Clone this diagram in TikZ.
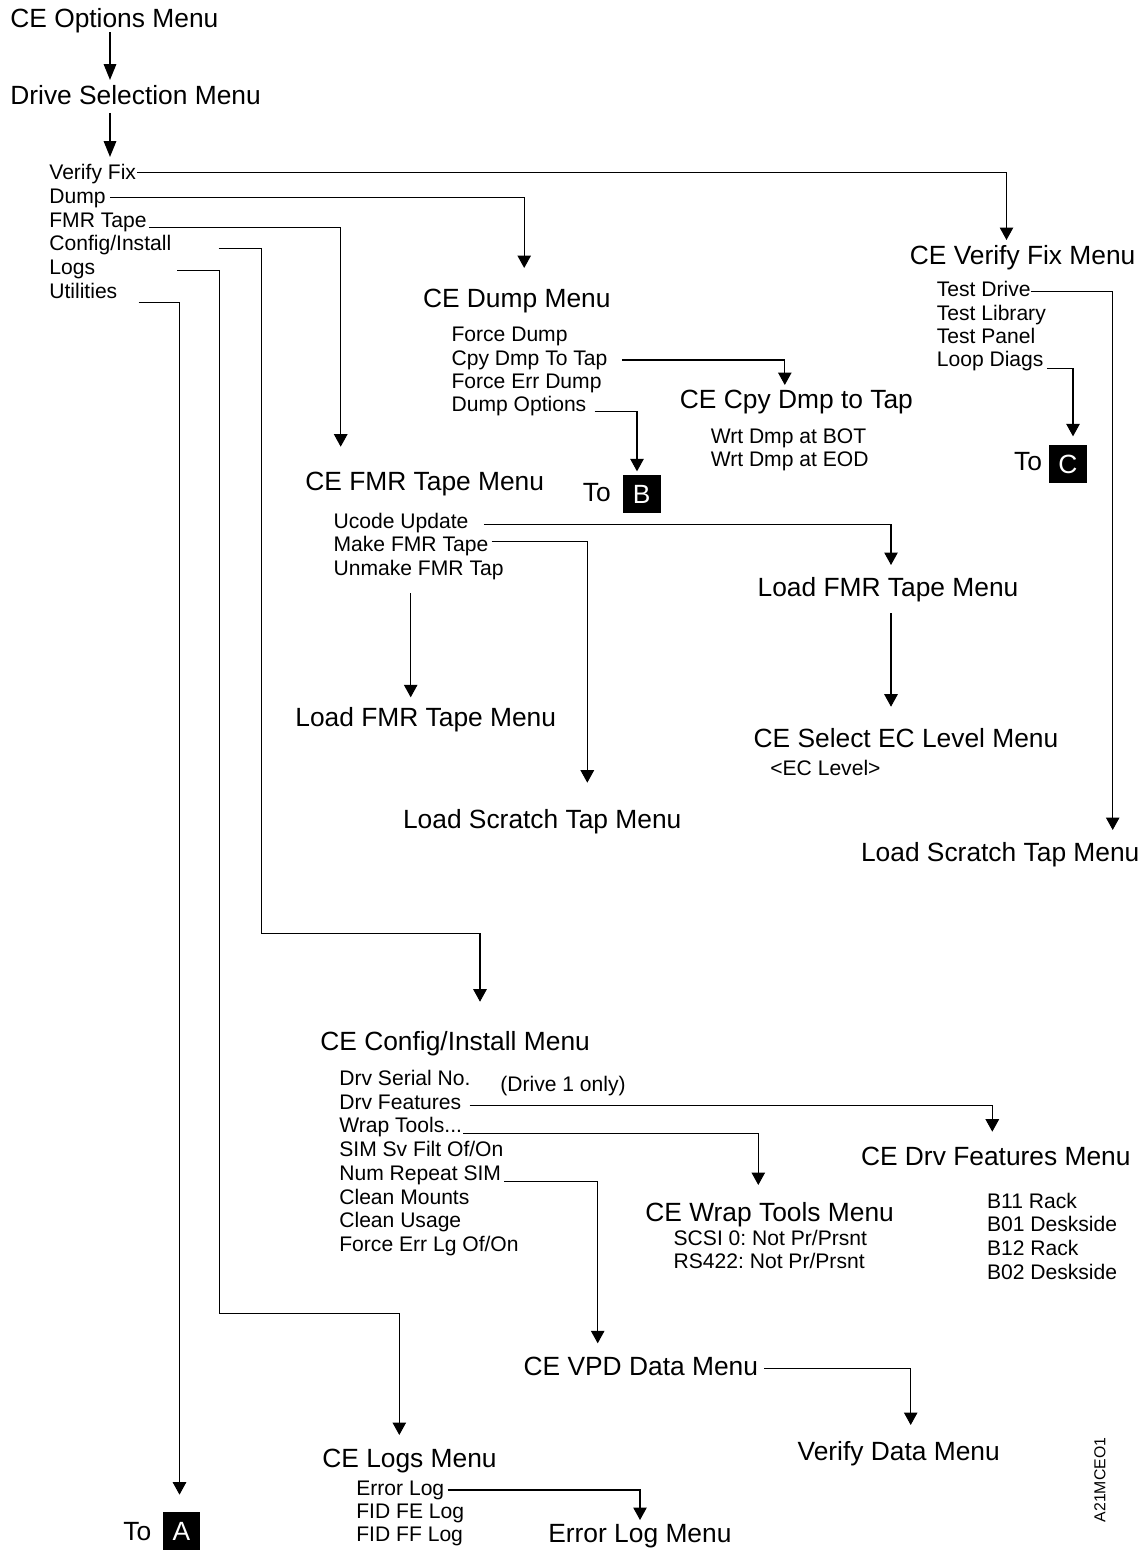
\documentclass[tikz,border=0pt]{standalone}
\usepackage{fontspec}
\setmainfont{Liberation Sans}
\usetikzlibrary{arrows.meta}
\frenchspacing

\begin{document}
\begin{tikzpicture}[x=0.02cm, y=-0.02cm,
      menu/.style={font=\fontsize{15}{17}\selectfont, inner sep=0pt, anchor=base west},
      opcion/.style={font=\fontsize{12}{14}\selectfont, inner sep=0pt, anchor=base west},
      destino/.style={fill=black, text=white, minimum size=0.76cm, inner sep=0pt,
                      font=\fontsize{15}{17}\selectfont},
      flecha/.style={-{Triangle[length=0.25cm, width=0.27cm]}, line width=0.6pt},
      flechagruesa/.style={-{Triangle[length=0.32cm, width=0.25cm]}, line width=1pt}]
    \useasboundingbox (0,0) rectangle (1143,1551);

    % menus
    \node[menu] (opciones) at (10,27.3) {CE Options Menu};
    \node[menu] (seleccion) at (10,104.5) {Drive Selection Menu};
    \node[menu] (mverif) at (909.5,264) {CE Verify Fix Menu};
    \node[menu] (mvolcado) at (422.7,307.3) {CE Dump Menu};
    \node[menu] (mcopia) at (679.6,408.3) {CE Cpy Dmp to Tap};
    \node[menu] (mfmr) at (305,490.7) {CE FMR Tape Menu};
    \node[menu] (mcarga1) at (295,726.7) {Load FMR Tape Menu};
    \node[menu] (mcarga2) at (757.3,596) {Load FMR Tape Menu};
    \node[menu] (mnivel) at (753.3,747.3) {CE Select EC Level Menu};
    \node[menu] (mscratch1) at (402.7,828.3) {Load Scratch Tap Menu};
    \node[menu] (mscratch2) at (860.7,861.7) {Load Scratch Tap Menu};
    \node[menu] (mconfig) at (320,1050) {CE Config/Install Menu};
    \node[menu] (mcaract) at (860.7,1165) {CE Drv Features Menu};
    \node[menu] (mwrap) at (645,1221) {CE Wrap Tools Menu};
    \node[menu] (mvpd) at (523.3,1375) {CE VPD Data Menu};
    \node[menu] (mverdatos) at (797.3,1460) {Verify Data Menu};
    \node[menu] (mlogs) at (322,1467) {CE Logs Menu};
    \node[menu] (merrlog) at (548,1542) {Error Log Menu};

    % salidas a otras hojas
    \node[menu] (aA) at (123,1540) {To};
    \node[destino] (letraA) at (181.5,1531) {A};
    \node[menu] (aB) at (582.5,501.7) {To};
    \node[destino] (letraB) at (641.7,494) {B};
    \node[menu] (aC) at (1013.7,470) {To};
    \node[destino] (letraC) at (1068,464) {C};

    % opciones
    \node[opcion] (vfix) at (49,179.5) {Verify Fix};
    \node[opcion] (dump) at (49,203.3) {Dump};
    \node[opcion] (fmr) at (49,227.1) {FMR Tape};
    \node[opcion] (config) at (49,250.9) {Config/Install};
    \node[opcion] (logs) at (49,274.7) {Logs};
    \node[opcion] (util) at (49,298.5) {Utilities};

    \node[opcion] (force) at (451.2,341.7) {Force Dump};
    \node[opcion] (cpy) at (451.2,365) {Cpy Dmp To Tap};
    \node[opcion] (ferr) at (451.2,388.3) {Force Err Dump};
    \node[opcion] (dopts) at (451.2,411.7) {Dump Options};

    \node[opcion] (bot) at (710.4,443.3) {Wrt Dmp at BOT};
    \node[opcion] (eod) at (710.4,466.7) {Wrt Dmp at EOD};

    \node[opcion] (tdrive) at (936.5,296.7) {Test Drive};
    \node[opcion] (tlib) at (936.5,320) {Test Library};
    \node[opcion] (tpanel) at (936.5,343.3) {Test Panel};
    \node[opcion] (ldiags) at (936.5,366.7) {Loop Diags};

    \node[opcion] (ucode) at (333.3,528.3) {Ucode Update};
    \node[opcion] (make) at (333.3,551.7) {Make FMR Tape};
    \node[opcion] (unmake) at (333.3,575) {Unmake FMR Tap};

    \node[opcion] (eclevel) at (770,775) {<EC Level>};

    \node[opcion] (serial) at (339,1085) {Drv Serial No.};
    \node[opcion] (dfeat) at (339,1109.3) {Drv Features};
    \node[opcion] (wrap) at (339,1132.7) {Wrap Tools...};
    \node[opcion] (simfilt) at (339,1156.7) {SIM Sv Filt Of/On};
    \node[opcion] (numrep) at (339,1180) {Num Repeat SIM};
    \node[opcion] (cmounts) at (339,1204) {Clean Mounts};
    \node[opcion] (cusage) at (339,1227.7) {Clean Usage};
    \node[opcion] (ferrlg) at (339,1251) {Force Err Lg Of/On};
    \node[opcion] (solo) at (500,1091.7) {(Drive 1 only)};

    \node[opcion] (scsi) at (673.3,1245) {SCSI 0: Not Pr/Prsnt};
    \node[opcion] (rs422) at (673.3,1268.3) {RS422: Not Pr/Prsnt};

    \node[opcion] (b11) at (986.7,1208.3) {B11 Rack};
    \node[opcion] (b01) at (986.7,1231.7) {B01 Deskside};
    \node[opcion] (b12) at (986.7,1255) {B12 Rack};
    \node[opcion] (b02) at (986.7,1279) {B02 Deskside};

    \node[opcion] (elog) at (356,1495) {Error Log};
    \node[opcion] (fidfe) at (356,1518.3) {FID FE Log};
    \node[opcion] (fidff) at (356,1541.7) {FID FF Log};

    \node[rotate=90, font=\fontsize{9}{10}\selectfont, inner sep=0pt] (codigo) at (1100,1480) {A21MCEO1};

    % conectores
    \draw[flechagruesa] ([shift={(100,5)}]opciones.base west) -- ([shift={(100,-24.5)}]seleccion.base west);
    \draw[flechagruesa] ([shift={(100,8.5)}]seleccion.base west) -- ([shift={(61,-22.5)}]vfix.base west);

    \draw[flecha] ([shift={(1,-7)}]vfix.base east) -| ([shift={(97,-24)}]mverif.base west);
    \draw[flecha] ([shift={(4,-6)}]dump.base east) -| ([shift={(101.5,-39.3)}]mvolcado.base west);
    \draw[flecha] ([shift={(2,0)}]fmr.base east) -| ([shift={(35.7,-44)}]mfmr.base west);
    \draw[flecha] ([shift={(47,-2.5)}]config.base east) -| ++(43,685) -| ([shift={(160,-48.3)}]mconfig.base west);
    \draw[flecha] ([shift={(82,-4)}]logs.base east) -| ++(42.5,1042.6) -| ([shift={(77.3,-32)}]mlogs.base west);
    \draw[flecha] ([shift={(21,4)}]util.base east) -| ([shift={(-2,-17)}]letraA.north);

    \draw[flecha] ([shift={(14,-5)}]cpy.base east) -| ([shift={(105.2,-23.3)}]mcopia.base west);
    \draw[flecha] ([shift={(8,0)}]dopts.base east) -| ([shift={(-4.7,-3.3)}]letraB.north);
    \draw[flecha] ([shift={(0,-5)}]tdrive.base east) -| ([shift={(252,-31.7)}]mscratch2.base west);
    \draw[flecha] ([shift={(3,1.5)}]ldiags.base east) -| ([shift={(5,-8.3)}]letraC.north);

    \draw[flecha] ([shift={(15,-4)}]ucode.base east) -| ([shift={(133.7,-31)}]mcarga2.base west);
    \draw[flecha] ([shift={(3,-10)}]make.base east) -| ([shift={(184.6,-45.6)}]mscratch1.base west);
    \draw[flecha] ([shift={(77.4,18.3)}]unmake.base west) -- ([shift={(115.7,-29.4)}]mcarga1.base west);
    \draw[flecha] ([shift={(133.7,17.3)}]mcarga2.base west) -- ([shift={(137.7,-40.6)}]mnivel.base west);

    \draw[flecha] ([shift={(8,-4)}]dfeat.base east) -| ([shift={(131.6,-33.3)}]mcaract.base west);
    \draw[flecha] ([shift={(1,1)}]wrap.base east) -| ([shift={(113.3,-36)}]mwrap.base west);
    \draw[flecha] ([shift={(3,1.5)}]numrep.base east) -| ([shift={(74.4,-31.7)}]mvpd.base west);
    \draw[flecha] ([shift={(6,-6.7)}]mvpd.base east) -| ([shift={(113.4,-35)}]mverdatos.base west);
    \draw[flecha] ([shift={(3,-5)}]elog.base east) -| ([shift={(92,-22)}]merrlog.base west);
  \end{tikzpicture}
\end{document}
